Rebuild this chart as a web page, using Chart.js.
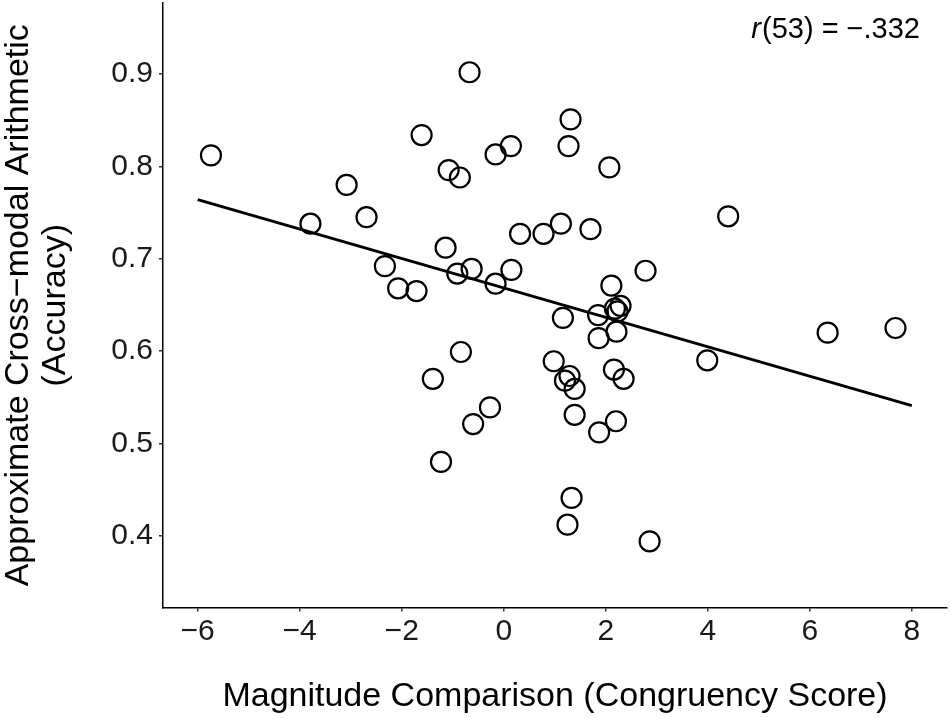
<!DOCTYPE html>
<html>
<head>
<meta charset="utf-8">
<title>Congruency vs accuracy</title>
<script src="https://cdn.jsdelivr.net/npm/chart.js"></script>
<style>
  html, body { margin: 0; padding: 0; background: #fff; }
  #wrap { width: 950px; height: 718px; }
</style>
</head>
<body>
<div id="wrap"><canvas id="scatter" width="950" height="718"></canvas></div>
<script>
// participant scores (x = congruency score, y = accuracy)
const congruency = [
  -5.74, -3.79, -3.08, -2.69, -2.33, -2.07, -1.71, -1.61, -1.14, -1.08,
  -0.86, -0.91, -0.67, -0.63, -0.16, -0.16, 0.14, 0.15, 0.32, 0.78,
  1.12, 1.70, 1.31, 1.27, 2.07, 4.40, 2.78, 2.11, 1.16, 1.85,
  2.18, 2.29, 2.23, 2.21, 1.86, 3.99, 6.35, 7.68, -0.84, -1.39,
  0.98, 1.29, 1.20, 1.39, 2.16, 2.35, -0.27, -0.60, 1.39, 2.20,
  1.87, -1.23, 1.33, 1.25, 2.86
];
const accuracy = [
  0.812, 0.738, 0.780, 0.745, 0.692, 0.668, 0.665, 0.834, 0.712, 0.796,
  0.788, 0.684, 0.902, 0.689, 0.813, 0.673, 0.822, 0.688, 0.727, 0.727,
  0.738, 0.732, 0.851, 0.822, 0.799, 0.746, 0.687, 0.671, 0.636, 0.639,
  0.646, 0.649, 0.643, 0.621, 0.614, 0.590, 0.620, 0.625, 0.599, 0.570,
  0.589, 0.573, 0.568, 0.559, 0.580, 0.570, 0.539, 0.521, 0.531, 0.524,
  0.512, 0.480, 0.441, 0.412, 0.394
];

// fitted line end points, as drawn
const fitX = [-6, 8];
const fitY = [0.764, 0.541];

const xTicks = [-6, -4, -2, 0, 2, 4, 6, 8];
const yTicks = [0.4, 0.5, 0.6, 0.7, 0.8, 0.9];

const FONT = '"Liberation Sans", Arial, Helvetica, sans-serif';

function minus(v) {
  return v < 0 ? '\u2212' + Math.abs(v) : String(v);
}

// r value in the top right corner, with an italic r
const corrLabel = {
  id: 'corrLabel',
  afterDatasetsDraw(chart) {
    const c = chart.ctx;
    c.save();
    c.fillStyle = '#000';
    c.textBaseline = 'alphabetic';
    c.textAlign = 'left';
    const rest = '(53) = \u2212.332';
    c.font = '29px ' + FONT;
    const wRest = c.measureText(rest).width;
    c.font = 'italic 29px ' + FONT;
    const wR = c.measureText('r').width;
    const right = 920, base = 38;
    const x0 = right - wRest - wR - 1;
    c.fillText('r', x0, base);
    c.font = '29px ' + FONT;
    c.fillText(rest, x0 + wR + 1, base);
    c.restore();
  }
};

const pts = congruency.map((x, i) => ({ x: x, y: accuracy[i] }));
const fit = fitX.map((x, i) => ({ x: x, y: fitY[i] }));

new Chart(document.getElementById('scatter'), {
  type: 'scatter',
  data: {
    datasets: [
      {
        type: 'line',
        data: fit,
        borderColor: '#000',
        borderWidth: 3,
        pointRadius: 0,
        fill: false,
        order: 0
      },
      {
        data: pts,
        pointStyle: 'circle',
        pointRadius: 10,
        borderWidth: 2.2,
        borderColor: '#000',
        backgroundColor: 'rgba(0,0,0,0)',
        order: 1
      }
    ]
  },
  options: {
    responsive: false,
    animation: false,
    layout: { autoPadding: false, padding: { top: 3, right: 3, left: 0, bottom: 0 } },
    plugins: { legend: { display: false }, tooltip: { enabled: false } },
    scales: {
      x: {
        type: 'linear',
        min: -6.68,
        max: 8.69,
        afterBuildTicks: s => { s.ticks = xTicks.map(v => ({ value: v })); },
        afterFit: s => {
          s.height = 110.5;
          s.paddingLeft = 0;
          s.paddingRight = 0;
        },
        ticks: {
          callback: v => minus(v),
          font: { size: 30, family: FONT },
          color: '#1a1a1a',
          padding: 2,
          maxRotation: 0,
          autoSkip: false
        },
        grid: { drawOnChartArea: false, drawTicks: true, tickLength: 4, color: '#333', lineWidth: 1.5 },
        border: { display: true, color: '#000', width: 1.5 },
        title: {
          display: true,
          text: 'Magnitude Comparison (Congruency Score)',
          font: { size: 34, family: FONT },
          color: '#000',
          padding: { top: 0, bottom: 1 }
        }
      },
      y: {
        type: 'linear',
        min: 0.3223,
        max: 0.977,
        afterBuildTicks: s => { s.ticks = yTicks.map(v => ({ value: v })); },
        afterFit: s => {
          s.width = 163;
          s.paddingTop = 0;
          s.paddingBottom = 0;
        },
        ticks: {
          callback: v => v.toFixed(1),
          font: { size: 30, family: FONT },
          color: '#1a1a1a',
          padding: 6,
          autoSkip: false
        },
        grid: { drawOnChartArea: false, drawTicks: true, tickLength: 4, color: '#333', lineWidth: 1.5 },
        border: { display: true, color: '#000', width: 1.5 },
        title: {
          display: true,
          text: ['Approximate Cross\u2212modal Arithmetic', '(Accuracy)'],
          font: { size: 34, family: FONT, lineHeight: 1.1 },
          color: '#000',
          padding: { top: 0, bottom: 0 }
        }
      }
    }
  },
  plugins: [corrLabel]
});
</script>
</body>
</html>
